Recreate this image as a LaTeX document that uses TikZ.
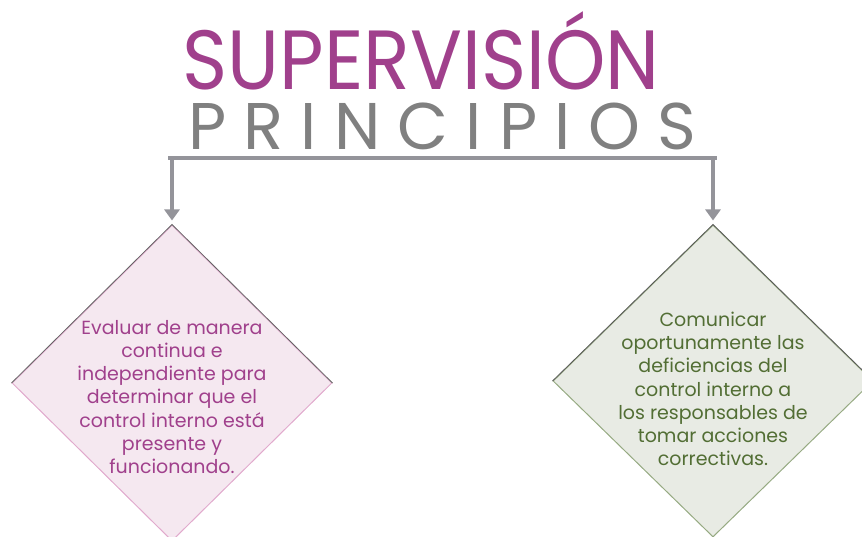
\documentclass[tikz,border=0pt]{standalone}
\usepackage{fontspec}
\setmainfont{Poppins}
\usetikzlibrary{shapes.geometric,arrows.meta}
\definecolor{mag}{RGB}{160,64,140}
\definecolor{ttl}{RGB}{128,128,128}
\definecolor{bar}{RGB}{148,148,154}
\definecolor{pinkfill}{RGB}{245,232,240}
\definecolor{pinkedge}{RGB}{225,170,205}
\definecolor{greenfill}{RGB}{232,235,228}
\definecolor{greenedge}{RGB}{150,170,130}
\definecolor{greentext}{RGB}{82,110,52}
\tikzset{
  conn/.style={draw=bar,line width=4pt},
  arr/.style={conn,-{Triangle[width=15pt,length=11pt]},shorten >=4pt},
  dia/.style={diamond,draw=#1,line width=1pt,inner sep=0pt,minimum width=320pt,minimum height=316pt},
  body/.style={align=center,font=\fontsize{19}{23.2}\selectfont}
}
\begin{document}
\begin{tikzpicture}[x=1pt,y=-1pt]
\useasboundingbox (0,0) rectangle (862,537);
\node[text=mag,inner sep=0pt,text depth=0pt,font=\fontsize{84}{84}\selectfont\addfontfeature{FakeStretch=0.915},anchor=base] (t1) at (421,90) {SUPERVISIÓN};
\node[text=ttl,inner sep=0pt,text height=47pt,text depth=0pt,font=\fontsize{66}{66}\selectfont\addfontfeature{LetterSpace=26},anchor=base] (t2) at (442,150) {PRINCIPIOS};
\node[dia=pinkedge,fill=pinkfill] (ld) at (172,383) {};
\draw[gray!80!black,line width=0.8pt] (ld.west) -- (ld.north) -- (ld.east);
\node[dia=greenedge,fill=greenfill,minimum height=312pt] (rd) at (713,381) {};
\draw[gray!70!black,line width=0.8pt] (rd.west) -- (rd.north) -- (rd.east);
\coordinate (bl) at (168,158);
\coordinate (br) at (717,158);
\draw[conn] (bl) -- (br);
\draw[arr] (ld.north |- bl) -- (ld.north);
\draw[arr] (rd.north |- br) -- (rd.north);
\node[body,text=mag] (lt) at (172,397) {Evaluar de manera\\continua e\\independiente para\\determinar que el\\control interno está\\presente y\\funcionando.};
\node[body,text=greentext] (rt) at (713,389) {Comunicar\\oportunamente las\\deficiencias del\\control interno a\\los responsables de\\tomar acciones\\correctivas.};
\end{tikzpicture}
\end{document}
